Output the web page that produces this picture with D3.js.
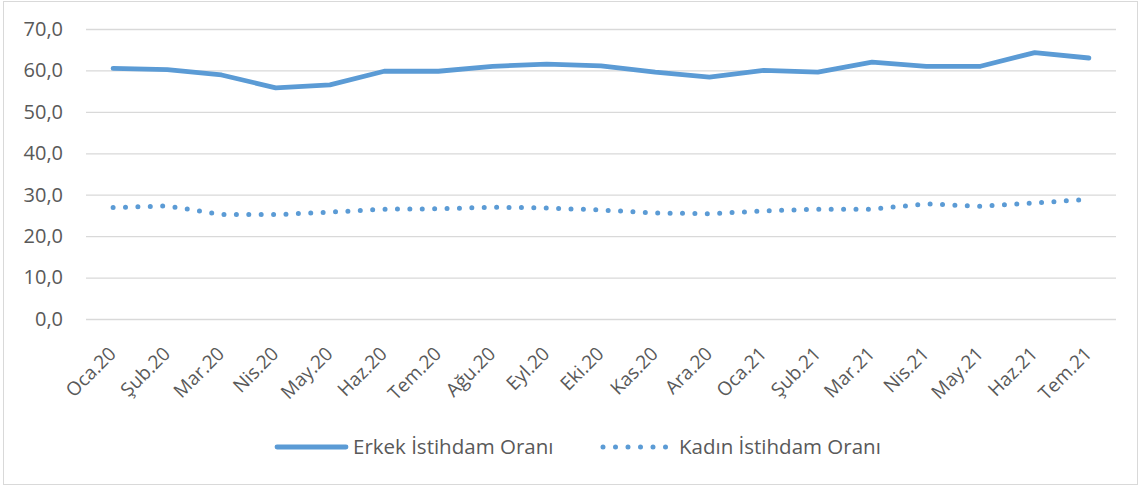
<!DOCTYPE html>
<html>
<head>
<meta charset="utf-8">
<script src="https://cdn.jsdelivr.net/npm/d3@7"></script>
<style>
  body { margin: 0; background: #fff; }
  svg { display: block; font-family: "Open Sans", "Liberation Sans", sans-serif; }
</style>
</head>
<body>
<svg id="chart" width="1141" height="489"></svg>
<script>
// Data
var months = ["Oca.20", "Şub.20", "Mar.20", "Nis.20", "May.20", "Haz.20", "Tem.20", "Ağu.20", "Eyl.20",
  "Eki.20", "Kas.20", "Ara.20", "Oca.21", "Şub.21", "Mar.21", "Nis.21", "May.21", "Haz.21", "Tem.21"];
var erkek = [60.5, 60.2, 58.9, 55.8, 56.5, 59.8, 59.8, 61.0, 61.5, 61.1, 59.6, 58.4, 60.0, 59.6, 62.0, 61.0, 61.0, 64.3, 63.0];
var kadin = [26.9, 27.3, 25.2, 25.2, 25.8, 26.5, 26.6, 27.0, 26.8, 26.3, 25.6, 25.4, 26.1, 26.5, 26.5, 27.8, 27.2, 28.0, 28.9];
var yTicks = [0, 10, 20, 30, 40, 50, 60, 70];
var seriesNames = ["Erkek İstihdam Oranı", "Kadın İstihdam Oranı"];

var color = "#5B9BD5";
var textColor = "#595959";
var svg = d3.select("#chart");

// chart border
svg.append("rect")
  .attr("x", 3.5).attr("y", 1.5)
  .attr("width", 1134).attr("height", 483)
  .attr("fill", "none")
  .attr("stroke", "#d9d9d9");

var plotLeft = 86, plotRight = 1116, plotTop = 29, plotBottom = 319;

var xscale = d3.scalePoint().domain(months).range([plotLeft, plotRight]).padding(0.5);
var yscale = d3.scaleLinear().domain([0, 70]).range([plotBottom, plotTop]);

// gridlines + y labels
var yaxis = d3.axisLeft(yscale)
  .tickValues(yTicks)
  .tickSize(-(plotRight - plotLeft))
  .tickPadding(23)
  .tickFormat(d => d3.format(".1f")(d).replace(".", ","));

var yg = svg.append("g")
  .attr("transform", `translate(${plotLeft},0)`)
  .call(yaxis)
  .attr("font-family", null)
  .attr("font-size", null);
yg.select(".domain").remove();
yg.selectAll(".tick line").attr("stroke", "#d9d9d9").attr("stroke-width", 1.3);
yg.selectAll(".tick text")
  .attr("fill", textColor)
  .style("font-size", "20px");

// x labels
svg.append("g")
  .selectAll("text")
  .data(months)
  .join("text")
  .attr("transform", d => `translate(${xscale(d) + 4},${plotBottom + 36}) rotate(-45)`)
  .attr("text-anchor", "end")
  .attr("fill", textColor)
  .style("font-size", "19px")
  .text(d => d);

var line = d3.line()
  .x((d, i) => xscale(months[i]))
  .y(d => yscale(d));

svg.append("path")
  .datum(erkek)
  .attr("d", line)
  .attr("fill", "none")
  .attr("stroke", color)
  .attr("stroke-width", 4.8)
  .attr("stroke-linejoin", "round")
  .attr("stroke-linecap", "round");

svg.append("path")
  .datum(kadin)
  .attr("d", line)
  .attr("fill", "none")
  .attr("stroke", color)
  .attr("stroke-width", 5)
  .attr("stroke-linecap", "round")
  .attr("stroke-dasharray", "0 12.4");

// Legend
var legend = svg.append("g").style("font-size", "20.5px").attr("fill", textColor);

legend.append("line")
  .attr("x1", 277).attr("x2", 346).attr("y1", 447).attr("y2", 447)
  .attr("stroke", color).attr("stroke-width", 4.8).attr("stroke-linecap", "round");
legend.append("text")
  .attr("x", 353).attr("y", 447).attr("dy", "0.35em")
  .text(seriesNames[0]);

legend.append("line")
  .attr("x1", 603).attr("x2", 667).attr("y1", 447).attr("y2", 447)
  .attr("stroke", color).attr("stroke-width", 5).attr("stroke-linecap", "round")
  .attr("stroke-dasharray", "0 12.5");
legend.append("text")
  .attr("x", 679).attr("y", 447).attr("dy", "0.35em")
  .text(seriesNames[1]);
</script>
</body>
</html>
